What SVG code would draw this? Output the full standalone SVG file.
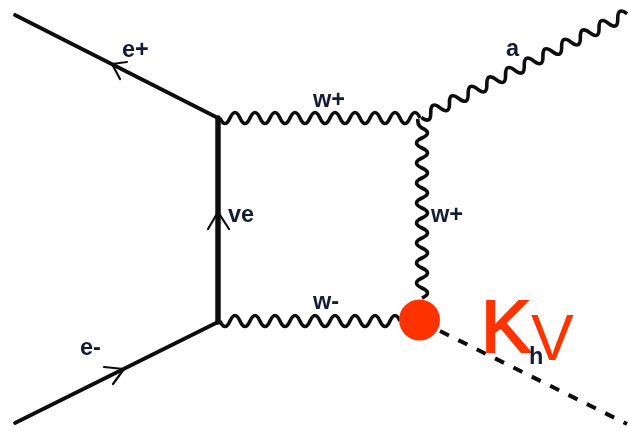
<svg xmlns="http://www.w3.org/2000/svg" width="629" height="431" viewBox="0 0 629 431">
  <style>
    .ln{fill:none;stroke:#111111;stroke-width:3.800;stroke-linecap:round;stroke-linejoin:round}
    .wv{fill:none;stroke:#111111;stroke-width:3.600;stroke-linejoin:round}
    .ab{fill:none;stroke:#111111;stroke-width:2.200;stroke-linecap:round;stroke-linejoin:round}
    .lb{font-family:"Liberation Sans",Arial,sans-serif;font-size:23.500px;font-weight:bold;fill:#141c34}
    .rd{font-family:"Liberation Sans",Arial,sans-serif;fill:#ff3300}
  </style>
  <defs>
    <filter id="soft" x="-5%" y="-5%" width="110%" height="110%"><feGaussianBlur stdDeviation="0.7"/></filter>
  </defs>
  <rect width="629" height="431" fill="#ffffff"/>
  <g id="connectors" filter="url(#soft)">
    <path id="e-plus-line" class="ln" d="M15,15L218,118"/>
    <path class="ab" d="M127,62L112,64L120,79"/>
    <path id="e-minus-line" class="ln" d="M15,423L218,322"/>
    <path class="ab" d="M104,367L124,369L113,384"/>
    <path id="nu-line" class="ln" style="stroke-width:5.500" d="M218,118V322"/>
    <path class="ab" d="M208,229L218,212L229,229"/>
    <path id="w-top" class="wv" d="M220,118q5,11 10,0t10,0t10,0t10,0t10,0t10,0t10,0t10,0t10,0t10,0t10,0t10,0t10,0t10,0t10,0t10,0t10,0t10,0t10,0t10,0"/>
    <path id="w-bottom" class="wv" d="M220,321q5,11 10,0t10,0t10,0t10,0t10,0t10,0t10,0t10,0t10,0t10,0t10,0t10,0t10,0t10,0t10,0t10,0t10,0t10,0"/>
    <path id="w-right" class="wv" d="M418,119Q417,125 422,128q11,5 0,10t0,10t0,10t0,10t0,10t0,10t0,10t0,10t0,10t0,10t0,10t0,10t0,10t0,10t0,10t0,10t0,10"/>
    <path id="photon" class="wv" d="M421.400,117.300q9.600,7.450 9.350,-4.700t9.350,-4.700t9.350,-4.700t9.350,-4.700t9.350,-4.700t9.350,-4.700t9.350,-4.700t9.350,-4.700t9.350,-4.700t9.350,-4.700t9.350,-4.700t9.350,-4.700t9.350,-4.700t9.350,-4.700t9.350,-4.700t9.350,-4.700t9.350,-4.700t9.350,-4.700t9.350,-4.700t9.350,-4.700t9.350,-4.700t9.350,-4.700"/>
    <path id="higgs" class="wv" style="stroke-dasharray:10 10.500;stroke-width:4" d="M440,331L627,424"/>
  </g>
  <g id="labels" filter="url(#soft)">
    <text class="lb" x="122" y="57">e+</text>
    <text class="lb" x="228" y="222">ve</text>
    <text class="lb" x="313" y="107">w+</text>
    <text class="lb" x="506" y="56">a</text>
    <text class="lb" x="431" y="222">w+</text>
    <text class="lb" x="313" y="309">w-</text>
    <text class="lb" x="80" y="355">e-</text>
  </g>
  <g id="vertex"><circle cx="419.500" cy="320" r="20.500" fill="#ff3300"/></g>
  <g id="kv-label">
    <text class="rd" x="481" y="352" font-size="75" style="stroke:#ff3300;stroke-width:2">K</text>
    <text class="rd" x="531" y="360" font-size="64">V</text>
  </g>
  <g id="h-label" filter="url(#soft)"><text class="lb" x="529" y="364">h</text></g>
</svg>
